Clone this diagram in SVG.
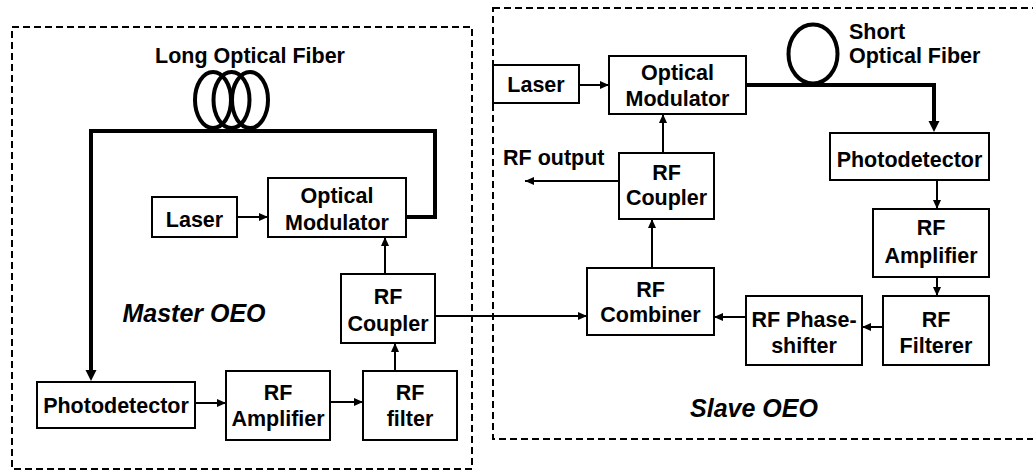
<svg xmlns="http://www.w3.org/2000/svg" width="1033" height="472" viewBox="0 0 1033 472">
  <style>
    .box { fill: #fff; stroke: #000; stroke-width: 2; }
    .frame { fill: none; stroke: #000; stroke-width: 2; stroke-dasharray: 7 4; }
    .t { font-family: "Liberation Sans", Arial, sans-serif; font-weight: bold; font-size: 21.5px; fill: #000; text-anchor: middle; }
    .ti { font-family: "Liberation Sans", Arial, sans-serif; font-weight: bold; font-style: italic; font-size: 25px; fill: #000; text-anchor: middle; }
    .thin { fill: none; stroke: #000; stroke-width: 2; marker-end: url(#ah); }
    .thick { fill: none; stroke: #000; stroke-width: 4; }
    .coil { fill: none; stroke: #000; stroke-width: 4; }
  </style>
  <defs>
    <marker id="ah" markerUnits="userSpaceOnUse" markerWidth="9" markerHeight="8" refX="9" refY="4" orient="auto">
      <path d="M0,0 L9,4 L0,8 z" fill="#000"/>
    </marker>
  </defs>

  <rect id="master-frame" class="frame" x="12" y="27" width="460" height="442"/>
  <rect id="slave-frame" class="frame" x="493" y="8" width="550" height="431"/>

  <g id="long-fiber">
    <ellipse class="coil" cx="213" cy="100" rx="18" ry="28"/>
    <ellipse class="coil" cx="231.5" cy="100" rx="18" ry="28"/>
    <ellipse class="coil" cx="250" cy="100" rx="18" ry="28"/>
    <text class="t" x="250" y="63">Long Optical Fiber</text>
  </g>
  <g id="short-fiber">
    <ellipse class="coil" cx="813" cy="54" rx="24.5" ry="29.5"/>
    <text class="t" x="849" y="39" style="text-anchor:start">Short</text>
    <text class="t" x="849" y="63" style="text-anchor:start">Optical Fiber</text>
  </g>

  <g id="connectors">
    <path class="thick" d="M406 217 H435 V131 H91 V371" />
    <path d="M85.5,370 L96.5,370 L91,381 z" fill="#000"/>
    <line class="thin" x1="237" y1="217" x2="268" y2="217"/>
    <line class="thin" x1="195" y1="403" x2="226" y2="403"/>
    <line class="thin" x1="330" y1="402" x2="363" y2="402"/>
    <line class="thin" x1="395" y1="371" x2="395" y2="343"/>
    <line class="thin" x1="385" y1="274" x2="385" y2="237"/>
    <line class="thin" x1="435" y1="316" x2="587" y2="316"/>

    <path class="thick" d="M746 85 H934 V122"/>
    <path d="M928.5,121 L939.5,121 L934,132 z" fill="#000"/>
    <line class="thin" x1="579" y1="85" x2="609" y2="85"/>
    <line class="thin" x1="663" y1="153" x2="663" y2="114"/>
    <line class="thin" x1="619" y1="181" x2="525" y2="181"/>
    <line class="thin" x1="652" y1="268" x2="652" y2="219"/>
    <line class="thin" x1="937" y1="180" x2="937" y2="209"/>
    <line class="thin" x1="937" y1="277" x2="937" y2="296"/>
    <line class="thin" x1="883" y1="327" x2="862" y2="327"/>
    <line class="thin" x1="746" y1="317" x2="714" y2="317"/>
  </g>

  <g id="m-laser">
    <rect class="box" x="152" y="197" width="85" height="40"/>
    <text class="t" x="194.5" y="227">Laser</text>
  </g>
  <g id="m-modulator">
    <rect class="box" x="268" y="178" width="138" height="59"/>
    <text class="t" x="337" y="203">Optical</text>
    <text class="t" x="337" y="230">Modulator</text>
  </g>
  <g id="m-coupler">
    <rect class="box" x="341" y="274" width="94" height="69"/>
    <text class="t" x="388" y="304">RF</text>
    <text class="t" x="388" y="331">Coupler</text>
  </g>
  <g id="m-photodetector">
    <rect class="box" x="37" y="382" width="158" height="46"/>
    <text class="t" x="116" y="413">Photodetector</text>
  </g>
  <g id="m-amplifier">
    <rect class="box" x="226" y="371" width="104" height="69"/>
    <text class="t" x="278" y="400">RF</text>
    <text class="t" x="278" y="426">Amplifier</text>
  </g>
  <g id="m-filter">
    <rect class="box" x="363" y="371" width="94" height="69"/>
    <text class="t" x="410" y="400">RF</text>
    <text class="t" x="410" y="426">filter</text>
  </g>
  <g id="m-label">
    <text class="ti" x="194" y="322">Master OEO</text>
  </g>

  <g id="s-laser">
    <rect class="box" x="493" y="65" width="86" height="38"/>
    <text class="t" x="536" y="92">Laser</text>
  </g>
  <g id="s-modulator">
    <rect class="box" x="609" y="56" width="137" height="58"/>
    <text class="t" x="677.5" y="80">Optical</text>
    <text class="t" x="677.5" y="106">Modulator</text>
  </g>
  <g id="s-output">
    <text class="t" x="503" y="165" style="text-anchor:start">RF output</text>
  </g>
  <g id="s-coupler">
    <rect class="box" x="619" y="153" width="95" height="66"/>
    <text class="t" x="666.5" y="180">RF</text>
    <text class="t" x="666.5" y="205">Coupler</text>
  </g>
  <g id="s-photodetector">
    <rect class="box" x="830" y="133" width="159" height="47"/>
    <text class="t" x="909.5" y="167">Photodetector</text>
  </g>
  <g id="s-amplifier">
    <rect class="box" x="873" y="209" width="116" height="68"/>
    <text class="t" x="931" y="235">RF</text>
    <text class="t" x="931" y="263">Amplifier</text>
  </g>
  <g id="s-filterer">
    <rect class="box" x="883" y="296" width="106" height="69"/>
    <text class="t" x="936" y="327">RF</text>
    <text class="t" x="936" y="353">Filterer</text>
  </g>
  <g id="s-phaseshifter">
    <rect class="box" x="746" y="296" width="116" height="69"/>
    <text class="t" x="804" y="327">RF Phase-</text>
    <text class="t" x="804" y="353">shifter</text>
  </g>
  <g id="s-combiner">
    <rect class="box" x="587" y="268" width="127" height="67"/>
    <text class="t" x="650.5" y="297">RF</text>
    <text class="t" x="650.5" y="322">Combiner</text>
  </g>
  <g id="s-label">
    <text class="ti" x="754" y="417">Slave OEO</text>
  </g>
</svg>
